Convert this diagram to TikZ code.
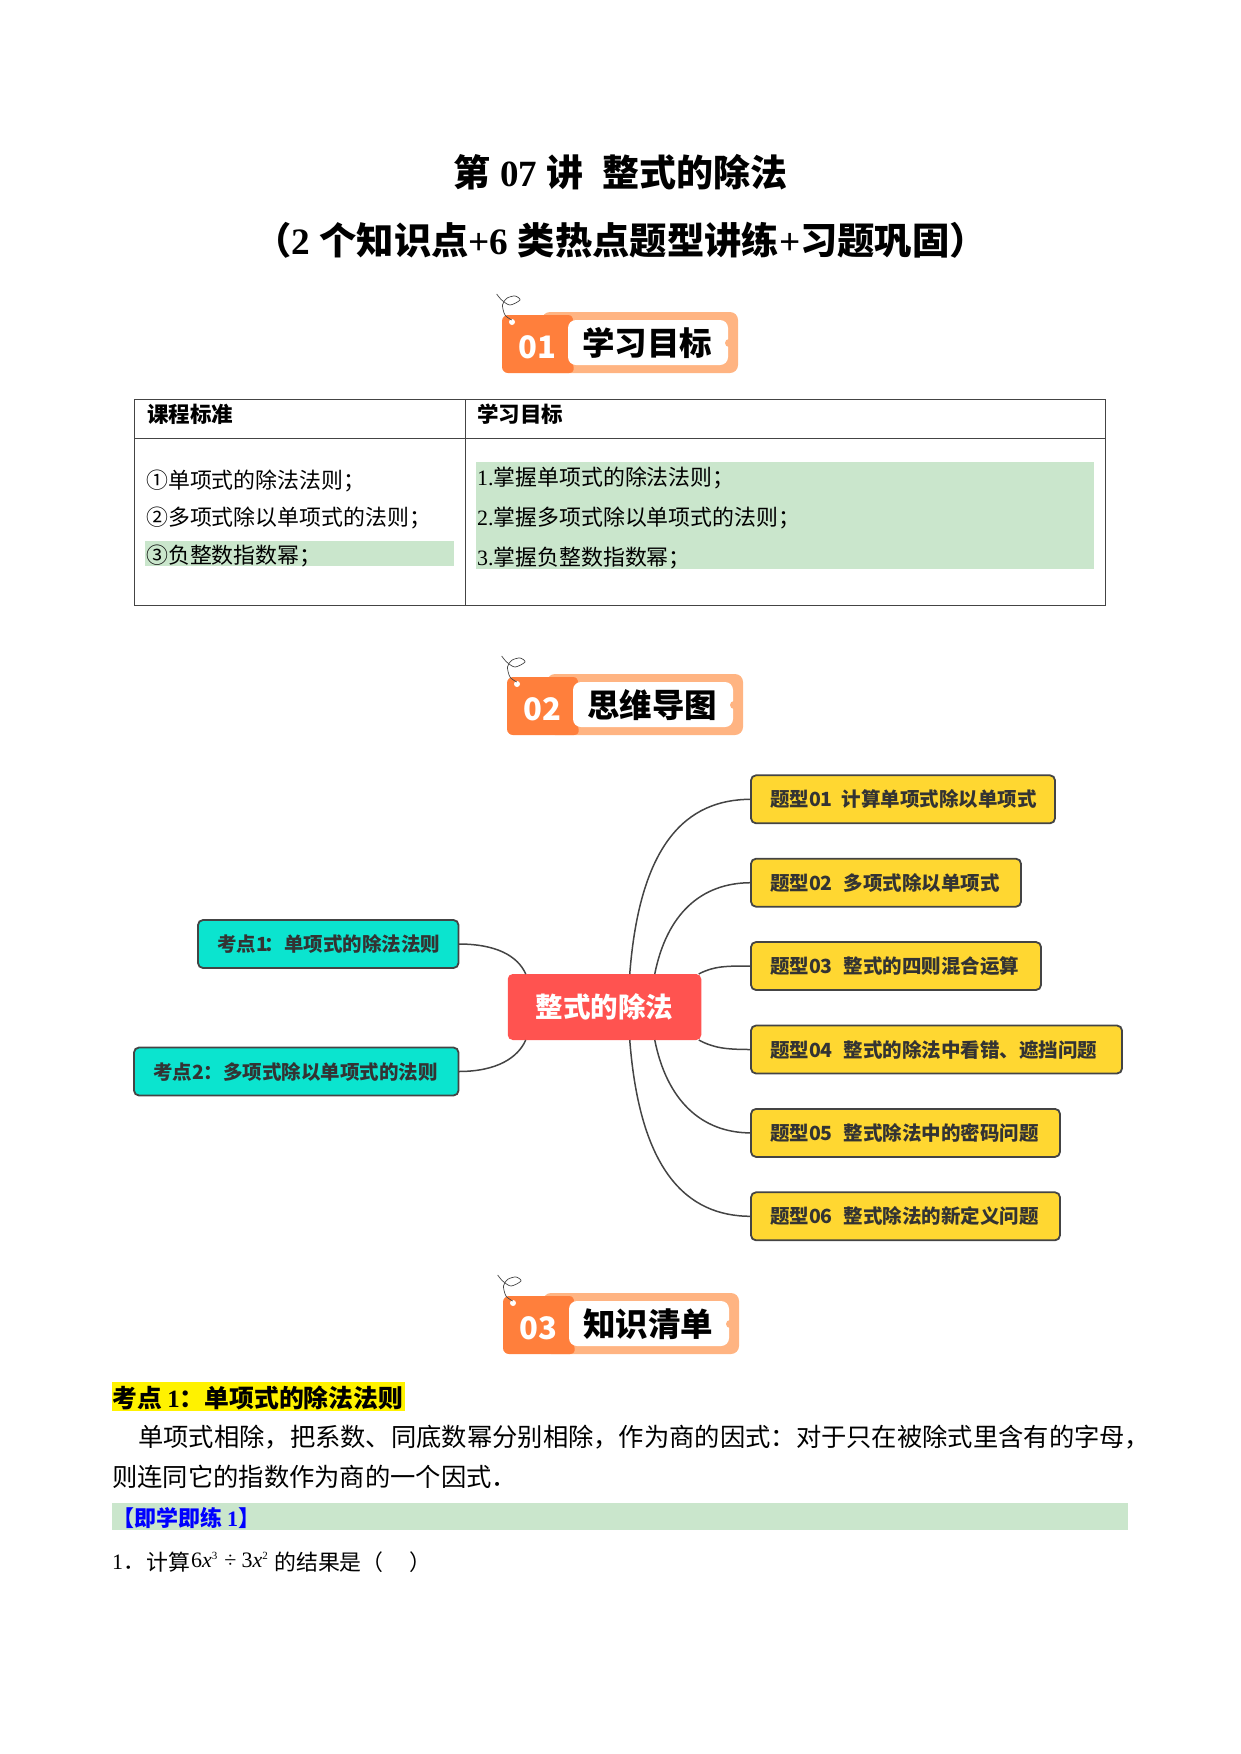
\documentclass[tikz,border=0pt]{standalone}
\usepackage{fontspec}
\setmainfont{Liberation Serif}
\newfontfamily\cjk{Noto Sans CJK SC}
\usetikzlibrary{calc}
\definecolor{badgedark}{HTML}{FF7F3C}
\definecolor{badgelight}{HTML}{FFB482}
\definecolor{markgreen}{HTML}{CAE6CC}
\definecolor{rootred}{HTML}{FF5350}
\definecolor{topicyellow}{HTML}{FFD731}
\definecolor{pointteal}{HTML}{0BE4CF}
\definecolor{edgegrey}{HTML}{444444}
\def\fsize#1{\fontsize{#1pt}{#1pt}\selectfont}
\def\badge#1#2#3#4#5{
	\begin{scope}[shift={(#1,#2)}]
		\fill[badgelight,rounded corners=8] (40,0) rectangle (236,61);
		\fill[badgedark,rounded corners=6] (0,3) -- (72,3) -- (66,31) -- (73,61) -- (0,61) -- cycle;
		\fill[white,rounded corners=8] (66,8) rectangle (226,53);
		\fill[badgelight] (227,31) circle (4);
		\fill[white] (10,10) circle (3);
		\draw[edgegrey,line width=0.7] plot[smooth] coordinates {(-5.3,-18) (-0.3,-12) (8,-7) (18,-12) (13,-16) (4.7,-13.7) (0.5,-7) (3,3) (9.7,8)};
		\node[badgenum] (#3num) at (35,35) {#4};
		\node[badgetext] (#3text) at (145,31) {#5};
	\end{scope}
}
\tikzset{
	badgenum/.style={text=white,font=\cjk\bfseries\fsize{31}},
	badgetext/.style={text=black,font=\cjk\bfseries\fsize{32.5}},
	title/.style={font=\bfseries\fsize{37.3}},
	cell/.style={anchor=west,inner sep=0,font=\cjk\fsize{21.9}},
	cellhead/.style={anchor=west,inner sep=0,font=\cjk\bfseries\fsize{21.5}},
	mapbox/.style={draw=edgegrey,line width=1.8,rounded corners=5,anchor=west,align=left,inner ysep=0,inner xsep=19,outer sep=0,minimum height=48,text=black!80,font=\cjk\bfseries\fsize{19.5}},
	topic/.style={mapbox,fill=topicyellow},
	point/.style={mapbox,fill=pointteal},
	link/.style={edgegrey,line width=1.5},
	body/.style={anchor=west,inner sep=0,font=\cjk\fsize{25.3}},
}
\begin{document}
\begin{tikzpicture}[x=1pt,y=-1pt]
	\useasboundingbox (0,0) rectangle (1241,1754);
	
	%%%%% TITLE %%%%%
	\node[title,font=\bfseries\fsize{37}] (titleA) at (620.5,172) {{\cjk 第} 07 {\cjk 讲}\hspace{19pt}{\cjk 整式的除法}};
	\node[title] (titleB) at (620.5,240) {{\cjk （}2 {\cjk 个知识点}+6 {\cjk 类热点题型讲练}+{\cjk 习题巩固）}};
	
	\badge{502}{312}{goal}{01}{学习目标}
	
	%%%%% TABLE %%%%%
	\fill[markgreen] (145,541) rectangle (454,566);
	\fill[markgreen] (476,462) rectangle (1094,569);
	\draw[edgegrey,line width=1] (134.5,399.5) rectangle (1105,605);
	\draw[edgegrey,line width=1] (134.5,438) -- (1105,438);
	\draw[edgegrey,line width=1] (465.5,399.5) -- (465.5,605);
	\node[cellhead] (headL) at (147,414) {课程标准};
	\node[cellhead] (headR) at (477,414) {学习目标};
	\node[cell] (stdA) at (146,481) {①单项式的除法法则；};
	\node[cell] (stdB) at (146,518) {②多项式除以单项式的法则；};
	\node[cell] (stdC) at (146,556) {③负整数指数幂；};
	\node[cell] (aimA) at (477,478) {{\rmfamily 1.}掌握单项式的除法法则；};
	\node[cell] (aimB) at (477,518) {{\rmfamily 2.}掌握多项式除以单项式的法则；};
	\node[cell] (aimC) at (477,558) {{\rmfamily 3.}掌握负整数指数幂；};
	
	\badge{507}{674}{map}{02}{思维导图}
	
	%%%%% MIND MAP %%%%%
	\node[fill=rootred,rounded corners=5,minimum width=193.5,minimum height=66,inner sep=0,outer sep=0,text=white,font=\cjk\bfseries\fsize{27.5}] (root) at (604.5,1007) {整式的除法};
	
	\node[topic,text width=266] (topicA) at (751,799.3) {题型01\kern9pt 计算单项式除以单项式};
	\node[topic,text width=232] (topicB) at (751,882.7) {题型02\kern11pt 多项式除以单项式};
	\node[topic,text width=252] (topicC) at (751,966) {题型03\kern11pt 整式的四则混合运算};
	\node[topic,text width=333] (topicD) at (751,1049.5) {题型04\kern11pt 整式的除法中看错、遮挡问题};
	\node[topic,text width=271] (topicE) at (751,1132.9) {题型05\kern11pt 整式除法中的密码问题};
	\node[topic,text width=271] (topicF) at (751,1216.3) {题型06\kern11pt 整式除法的新定义问题};
	
	\node[point,text width=222.5] (pointA) at (198,944) {考点1\kern-3pt ：单项式的除法法则};
	\node[point,text width=286.5] (pointB) at (134,1071.5) {考点2：多项式除以单项式的法则};
	
	\draw[link] ([xshift=122]root.north west) .. controls +(10,-130) and +(-65,0) .. (topicA.west);
	\draw[link] ([xshift=147]root.north west) .. controls +(12,-60) and +(-50,0) .. (topicB.west);
	\draw[link] ([xshift=191]root.north west) .. controls +(15,-8) and +(-25,0) .. (topicC.west);
	\draw[link] ([xshift=191]root.south west) .. controls +(15,8) and +(-25,0) .. (topicD.west);
	\draw[link] ([xshift=147]root.south west) .. controls +(12,60) and +(-50,0) .. (topicE.west);
	\draw[link] ([xshift=122]root.south west) .. controls +(10,130) and +(-65,0) .. (topicF.west);
	\draw[link] (pointA.east) .. controls +(38,0) and +(-8,-18) .. ([xshift=18]root.north west);
	\draw[link] (pointB.east) .. controls +(38,0) and +(-8,18) .. ([xshift=18]root.south west);
	
	\badge{503}{1293}{list}{03}{知识清单}
	
	%%%%% NOTES %%%%%
	\fill[yellow] (112,1382) rectangle (405,1411);
	\node[body,font=\cjk\bfseries\fsize{24.8}] (noteHead) at (112,1398) {考点 {\rmfamily 1}：单项式的除法法则};
	\node[body] (noteA) at (138,1437) {单项式相除，把系数、同底数幂分别相除，作为商的因式：对于只在被除式里含有的字母，};
	\node[body] (noteB) at (112,1477) {则连同它的指数作为商的一个因式．};
	\fill[markgreen] (112,1503) rectangle (1128,1530);
	\node[body,text=blue,font=\cjk\bfseries\fsize{22}] (practice) at (112,1518) {【即学即练 {\rmfamily 1}】};
	\node[cell,font=\rmfamily\fsize{22}] (qNum) at (112,1562) {1{\cjk ．}};
	\node[cell] (qA) at (146,1562) {计算};
	\node[cell,font=\rmfamily\fsize{22}] (qMath) at (191,1560) {6\textit{x}\raisebox{8pt}{\fsize{11}3}\hspace{7pt}÷\hspace{5pt}3\textit{x}\raisebox{8pt}{\fsize{11}2}};
	\node[cell] (qB) at (274,1562) {的结果是（\hspace{26pt}）};
\end{tikzpicture}
\end{document}
